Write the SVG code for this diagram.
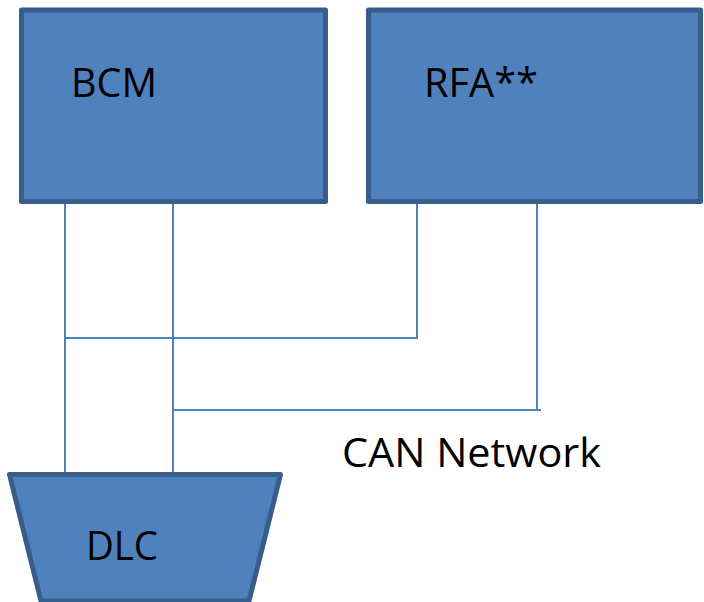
<svg xmlns="http://www.w3.org/2000/svg" width="704" height="602" viewBox="0 0 704 602">
<style>
.node{fill:#4F81BD;stroke:#385D8A;stroke-width:5;stroke-linejoin:round}
.lbl{font-family:"Open Sans","Liberation Sans",sans-serif;font-size:40px;fill:#000}
.wire{fill:none;stroke:#4F81BD;stroke-width:2}
</style>
<rect x="0" y="0" width="704" height="602" fill="#fff"/>
<g id="connectors">
<line class="wire" x1="65" y1="204" x2="65" y2="472"/>
<line class="wire" x1="173" y1="204" x2="173" y2="472"/>
<polyline class="wire" points="417,204 417,338 65,338"/>
<polyline class="wire" points="537,204 537,410 173,410"/>
<line class="wire" x1="537" y1="410" x2="541" y2="410"/>
</g>
<g id="bcm">
<rect class="node" x="21.5" y="10" width="304" height="191.5"/>
<text class="lbl" x="71" y="97" textLength="86" lengthAdjust="spacingAndGlyphs">BCM</text>
</g>
<g id="rfa">
<rect class="node" x="368.5" y="10" width="332" height="191.5"/>
<text class="lbl" x="424" y="97" textLength="114" lengthAdjust="spacingAndGlyphs">RFA**</text>
</g>
<g id="dlc">
<polygon class="node" points="9.5,474.5 280.5,474.5 249,601 41,601"/>
<text class="lbl" x="86" y="560" textLength="72" lengthAdjust="spacingAndGlyphs">DLC</text>
</g>
<g id="can-label">
<text class="lbl" x="342" y="467" textLength="259" lengthAdjust="spacingAndGlyphs">CAN Network</text>
</g>
</svg>
